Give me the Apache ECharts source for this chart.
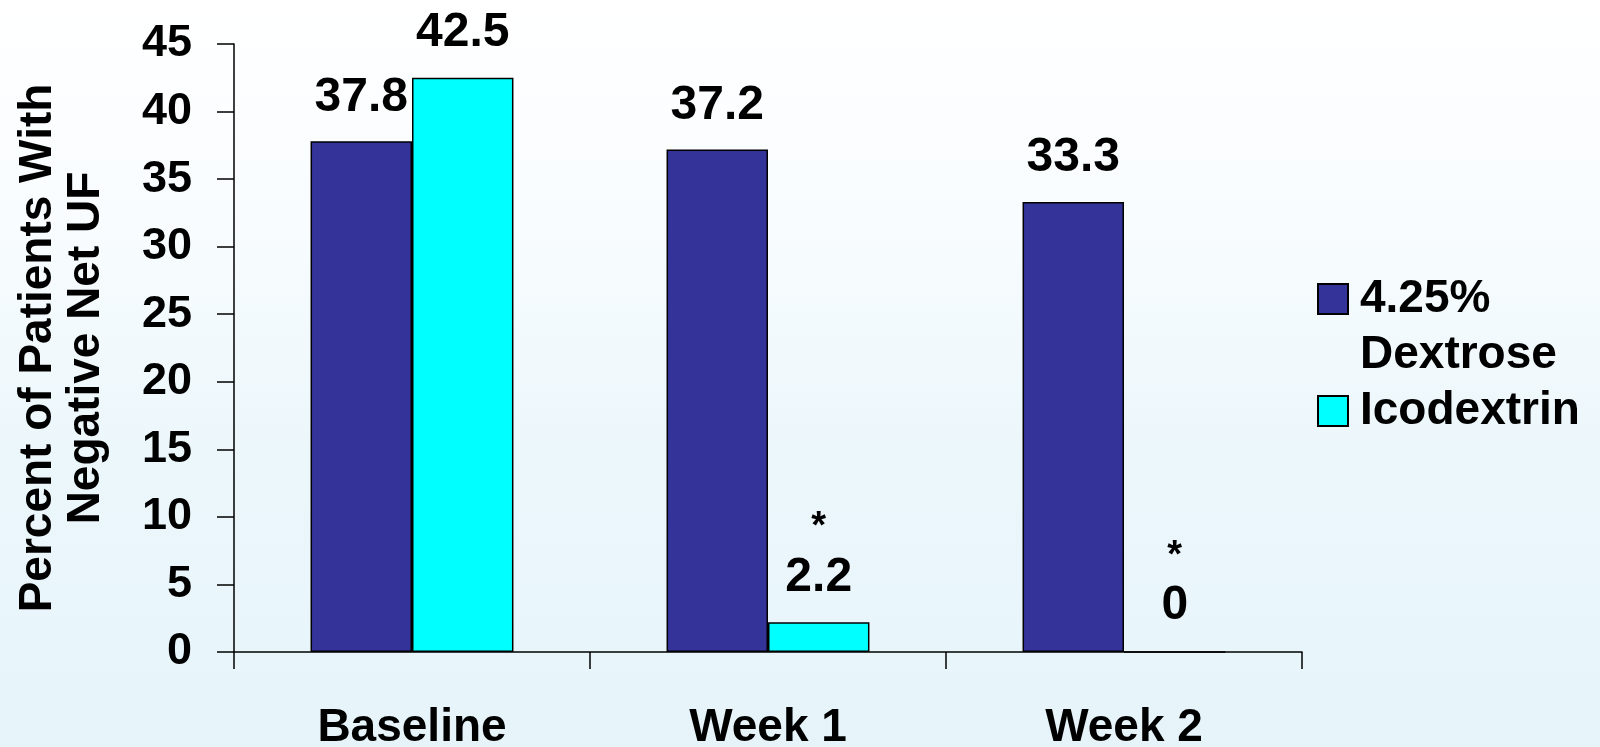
<!DOCTYPE html>
<html>
<head>
<meta charset="utf-8">
<title>Negative Net UF</title>
<script src="https://cdn.jsdelivr.net/npm/echarts@6/dist/echarts.min.js"></script>
<style>
  html, body { margin: 0; padding: 0; }
  #chart { width: 1600px; height: 747px; }
</style>
</head>
<body>
<div id="chart"></div>
<script>
// Time points and percentages of patients with negative net ultrafiltration
const categories = ['Baseline', 'Week 1', 'Week 2'];
const dextroseValues = [37.8, 37.2, 33.3];
const icodextrinValues = [42.5, 2.2, 0];
// Statistical significance flags for icodextrin vs dextrose
const icodextrinSignificant = [false, true, true];
const seriesNames = ['4.25% Dextrose', 'Icodextrin'];
const yTicks = { min: 0, max: 45, interval: 5 };

const FONT = '"Liberation Sans", Arial, Helvetica, sans-serif';
const chart = echarts.init(document.getElementById('chart'));

const labelBase = {
  show: true,
  position: 'top',
  distance: 20,
  color: '#000',
  fontFamily: FONT,
  fontWeight: 'bold',
  fontSize: 48
};

chart.setOption({
  animation: false,
  backgroundColor: {
    type: 'linear', x: 0, y: 0, x2: 0, y2: 1,
    colorStops: [
      { offset: 0, color: '#ffffff' },
      { offset: 0.3, color: '#f8fcfe' },
      { offset: 0.6, color: '#ecf7fb' },
      { offset: 1, color: '#e6f4fa' }
    ]
  },
  grid: { left: 234, right: 298, top: 44, bottom: 95, outerBoundsMode: 'none', containLabel: false },
  legend: {
    orient: 'vertical',
    left: 1317,
    top: 215,
    padding: 0,
    itemWidth: 30,
    itemHeight: 30,
    itemGap: 0,
    icon: 'rect',
    selectedMode: false,
    textStyle: {
      color: '#000',
      fontFamily: FONT,
      fontWeight: 'bold',
      fontSize: 46,
      lineHeight: 56,
      padding: [0, 0, 0, 7]
    },
    data: seriesNames,
    formatter: function (name) {
      // first line of the dextrose entry sits level with its swatch
      return name === seriesNames[0] ? '\n4.25%\nDextrose' : name;
    }
  },
  xAxis: {
    type: 'category',
    data: categories,
    axisLine: { lineStyle: { color: '#000', width: 1.5 } },
    axisTick: { show: true, length: 17, lineStyle: { color: '#000', width: 1.5 } },
    axisLabel: {
      color: '#000', fontFamily: FONT, fontWeight: 'bold', fontSize: 46, margin: 53
    }
  },
  yAxis: {
    type: 'value',
    min: yTicks.min,
    max: yTicks.max,
    interval: yTicks.interval,
    name: 'Percent of Patients With\nNegative Net UF',
    nameLocation: 'middle',
    nameRotate: 90,
    nameGap: 124,
    nameTextStyle: {
      color: '#000', fontFamily: FONT, fontWeight: 'bold', fontSize: 46, lineHeight: 48
    },
    axisLine: { show: true, lineStyle: { color: '#000', width: 1.5 } },
    axisTick: { show: true, length: 17, lineStyle: { color: '#000', width: 1.5 } },
    splitLine: { show: false },
    axisLabel: {
      color: '#000', fontFamily: FONT, fontWeight: 'bold', fontSize: 45, margin: 42
    }
  },
  series: [
    {
      name: seriesNames[0],
      type: 'bar',
      data: dextroseValues,
      barGap: '0%',
      barCategoryGap: '43%',
      itemStyle: { color: '#333399', borderColor: '#000', borderWidth: 1.5 },
      label: labelBase
    },
    {
      name: seriesNames[1],
      type: 'bar',
      data: icodextrinValues,
      barGap: '0%',
      barCategoryGap: '43%',
      itemStyle: { color: '#00ffff', borderColor: '#000', borderWidth: 1.5 },
      label: Object.assign({}, labelBase, {
        formatter: function (p) {
          return icodextrinSignificant[p.dataIndex]
            ? '{star|*}\n{val|' + p.value + '}'
            : '{val|' + p.value + '}';
        },
        rich: {
          star: { fontFamily: FONT, fontWeight: 'bold', fontSize: 38, lineHeight: 50, color: '#000' },
          val: { fontFamily: FONT, fontWeight: 'bold', fontSize: 48, lineHeight: 50, color: '#000' }
        }
      })
    }
  ]
});
</script>
</body>
</html>
